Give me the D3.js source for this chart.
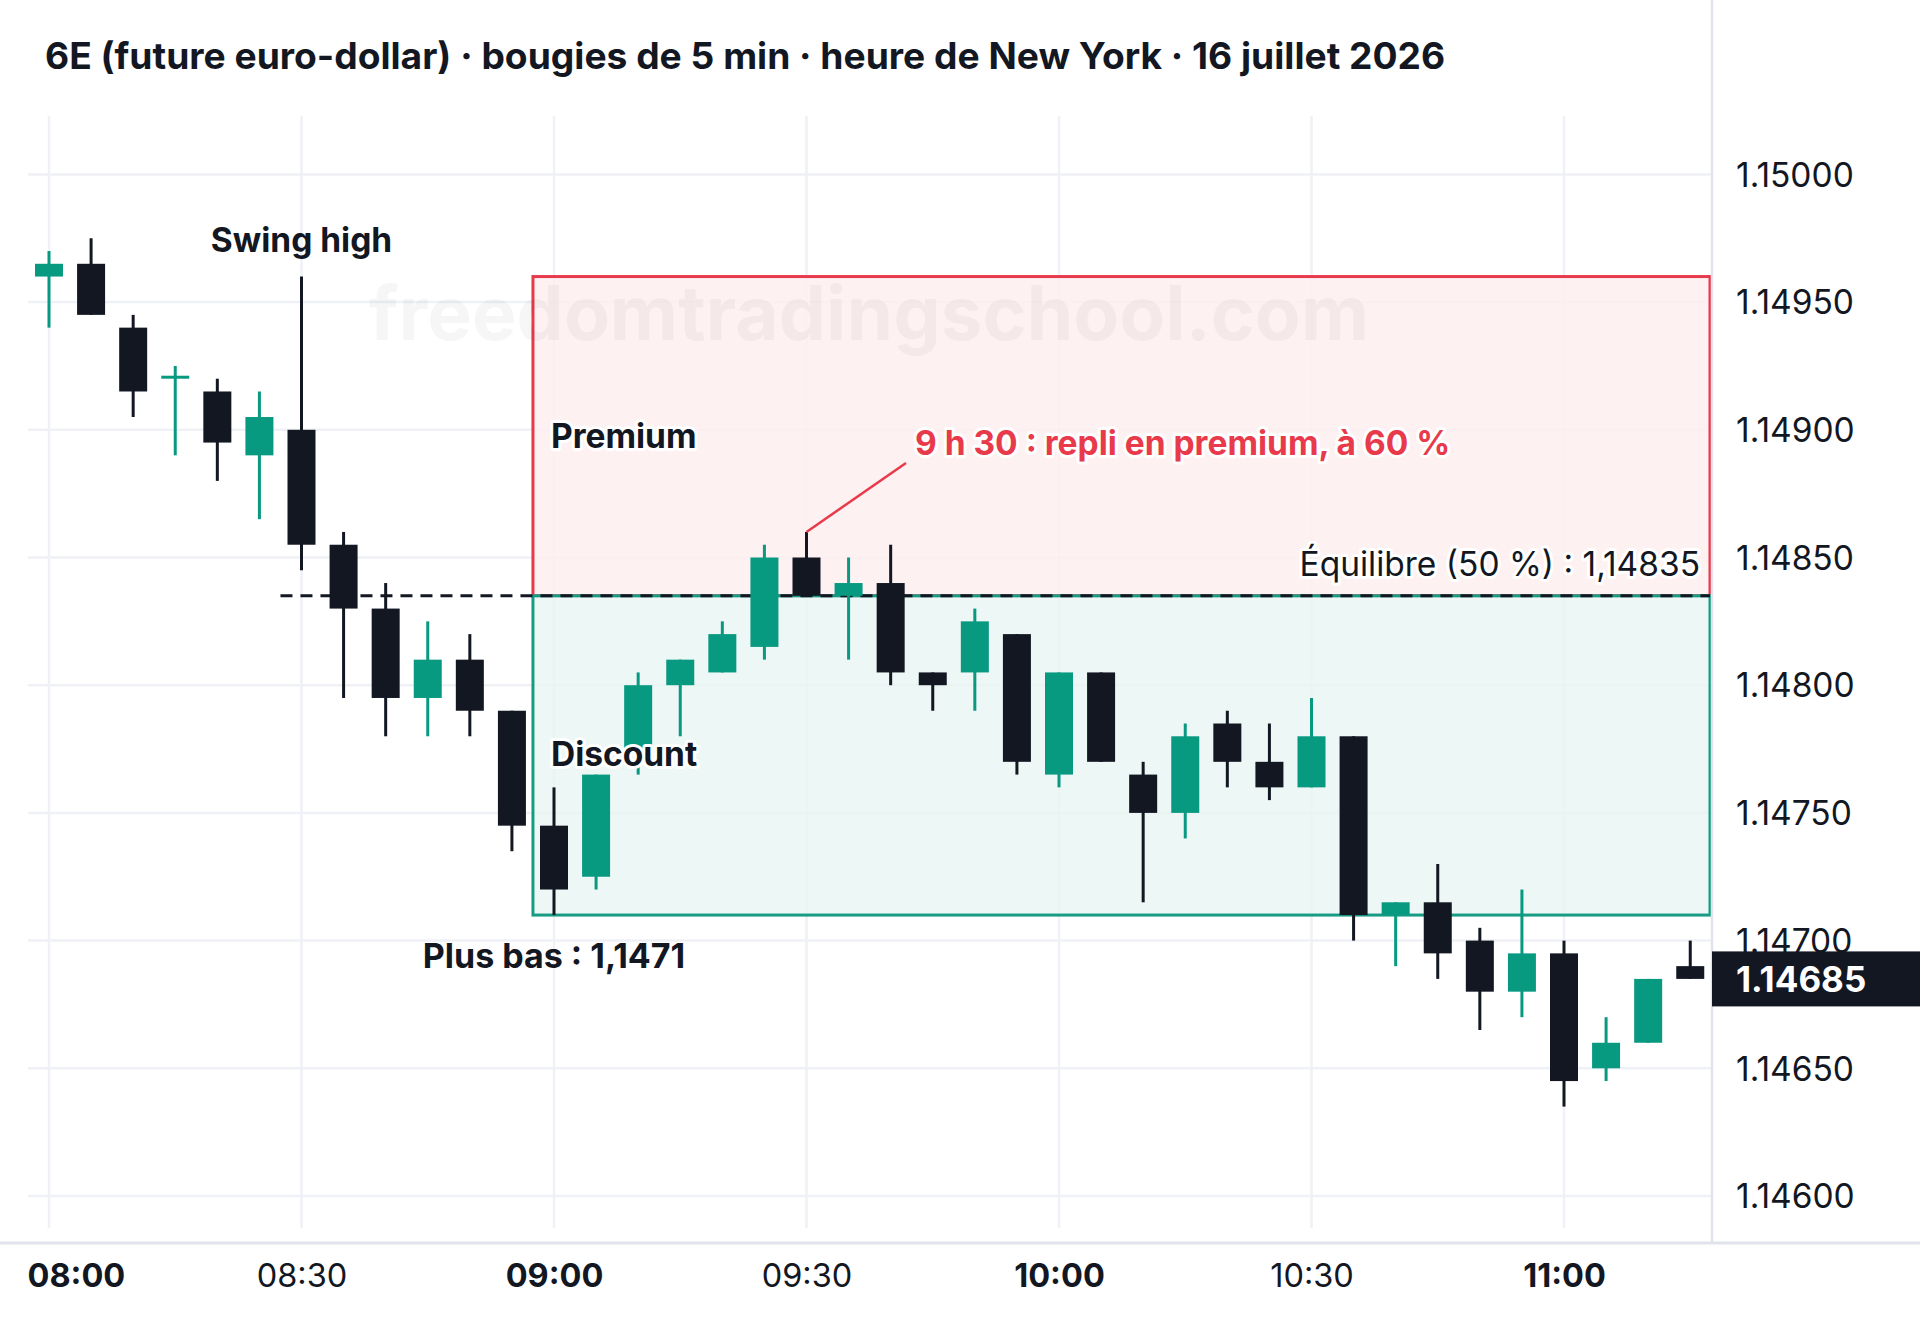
<!DOCTYPE html>
<html>
<head>
<meta charset="utf-8">
<script src="https://cdn.jsdelivr.net/npm/d3@7"></script>
<style>
  body { margin: 0; background: #fff; }
  svg { display: block; font-family: Inter, "Noto Sans", sans-serif; }
</style>
</head>
<body>
<div class="chart"></div>
<script>
// candle data, 5 min, New York time
var times = ["08:00","08:05","08:10","08:15","08:20","08:25","08:30","08:35","08:40","08:45",
  "08:50","08:55","09:00","09:05","09:10","09:15","09:20","09:25","09:30","09:35",
  "09:40","09:45","09:50","09:55","10:00","10:05","10:10","10:15","10:20","10:25",
  "10:30","10:35","10:40","10:45","10:50","10:55","11:00","11:05","11:10","11:15"];
var opens = [1.14960,1.14965,1.14940,1.14920,1.14915,1.14890,1.14900,1.14855,1.14830,1.14795,
  1.14810,1.14790,1.14745,1.14725,1.14775,1.14800,1.14805,1.14815,1.14850,1.14835,
  1.14840,1.14805,1.14805,1.14820,1.14765,1.14805,1.14765,1.14750,1.14785,1.14770,
  1.14760,1.14780,1.14710,1.14715,1.14700,1.14680,1.14695,1.14650,1.14660,1.14690];
var highs = [1.14970,1.14975,1.14945,1.14925,1.14920,1.14915,1.14960,1.14860,1.14840,1.14825,
  1.14820,1.14790,1.14760,1.14765,1.14805,1.14810,1.14825,1.14855,1.14860,1.14850,
  1.14855,1.14805,1.14830,1.14820,1.14805,1.14805,1.14770,1.14785,1.14790,1.14785,
  1.14795,1.14780,1.14715,1.14730,1.14705,1.14720,1.14700,1.14670,1.14685,1.14700];
var lows = [1.14940,1.14945,1.14905,1.14890,1.14880,1.14865,1.14845,1.14795,1.14780,1.14780,
  1.14780,1.14735,1.14710,1.14720,1.14765,1.14780,1.14805,1.14810,1.14835,1.14810,
  1.14800,1.14790,1.14790,1.14765,1.14760,1.14770,1.14715,1.14740,1.14760,1.14755,
  1.14760,1.14700,1.14690,1.14685,1.14665,1.14670,1.14635,1.14645,1.14660,1.14685];
var closes = [1.14965,1.14945,1.14915,1.14920,1.14895,1.14905,1.14855,1.14830,1.14795,1.14810,
  1.14790,1.14745,1.14720,1.14765,1.14800,1.14810,1.14820,1.14850,1.14835,1.14840,
  1.14805,1.14800,1.14825,1.14770,1.14805,1.14770,1.14750,1.14780,1.14770,1.14760,
  1.14780,1.14710,1.14715,1.14695,1.14680,1.14695,1.14645,1.14660,1.14685,1.14685];

var priceTicks = [1.146, 1.1465, 1.147, 1.1475, 1.148, 1.1485, 1.149, 1.1495, 1.15];
var timeTicks = ["08:00","08:30","09:00","09:30","10:00","10:30","11:00"];

// premium / discount zone
var swingHigh = 1.1496;
var lowPoint = 1.1471;
var equilibrium = 1.14835;
var zoneStart = "08:57:30";
var dashStart = "08:27:30";
var lastPrice = 1.14685;

var svgWidth = 1920;
var svgHeight = 1320;

var svg = d3.select(".chart")
  .append("svg")
  .attr("width", svgWidth)
  .attr("height", svgHeight);

var parseTime = d3.timeParse("%H:%M");
var parseTimeSec = d3.timeParse("%H:%M:%S");

var candles = times.map(function(t, i) {
  return { t: parseTime(t), o: opens[i], h: highs[i], l: lows[i], c: closes[i] };
});

var plotRight = 1712;
var gridLeft = 28;
var gridTop = 116;
var gridBottom = 1228;
var axisBottom = 1243;

var xScale = d3.scaleTime()
  .domain([parseTime("08:00"), parseTime("11:00")])
  .range([49, 1564]);

var yScale = d3.scaleLinear()
  .domain([1.146, 1.15])
  .range([1196, 174.4]);

var ink = "#131722";
var green = "#089981";
var red = "#e83a4b";
var teal = "#169c83";

svg.append("rect")
  .attr("width", svgWidth)
  .attr("height", svgHeight)
  .attr("fill", "#fff");

// grid
var grid = svg.append("g");
grid.selectAll(".hgrid")
  .data(priceTicks)
  .enter()
  .append("line")
  .attr("x1", gridLeft)
  .attr("x2", plotRight)
  .attr("y1", d => yScale(d))
  .attr("y2", d => yScale(d))
  .attr("stroke", "#eff1f6")
  .attr("stroke-width", 2.5);

grid.selectAll(".vgrid")
  .data(timeTicks)
  .enter()
  .append("line")
  .attr("x1", d => xScale(parseTime(d)))
  .attr("x2", d => xScale(parseTime(d)))
  .attr("y1", gridTop)
  .attr("y2", gridBottom)
  .attr("stroke", "#eff1f6")
  .attr("stroke-width", 2.5);

// zones
var zx = xScale(parseTimeSec(zoneStart));
svg.append("rect")
  .attr("x", zx)
  .attr("y", yScale(swingHigh))
  .attr("width", plotRight - 2 - zx)
  .attr("height", yScale(equilibrium) - yScale(swingHigh))
  .attr("fill", "#fdeef0")
  .attr("fill-opacity", 0.85)
  .attr("stroke", red)
  .attr("stroke-width", 3);

svg.append("rect")
  .attr("x", zx)
  .attr("y", yScale(equilibrium))
  .attr("width", plotRight - 2 - zx)
  .attr("height", yScale(lowPoint) - yScale(equilibrium))
  .attr("fill", "#e9f5f2")
  .attr("fill-opacity", 0.8)
  .attr("stroke", teal)
  .attr("stroke-width", 3);

// watermark
svg.append("text")
  .attr("x", 869)
  .attr("y", 312)
  .attr("text-anchor", "middle")
  .attr("dominant-baseline", "central")
  .attr("font-size", 75)
  .attr("font-weight", 700)
  .attr("fill", ink)
  .attr("fill-opacity", 0.04)
  .text("freedomtradingschool.com");

// equilibrium dashed line
svg.append("line")
  .attr("x1", xScale(parseTimeSec(dashStart)))
  .attr("x2", plotRight - 2)
  .attr("y1", yScale(equilibrium))
  .attr("y2", yScale(equilibrium))
  .attr("stroke", ink)
  .attr("stroke-width", 3)
  .attr("stroke-dasharray", "12,8");

// candles
var bodyW = 28;
var candleGroup = svg.append("g");
candleGroup.selectAll(".wick")
  .data(candles)
  .enter()
  .append("line")
  .attr("x1", d => xScale(d.t))
  .attr("x2", d => xScale(d.t))
  .attr("y1", d => yScale(d.h))
  .attr("y2", d => yScale(d.l))
  .attr("stroke", d => d.c >= d.o ? green : ink)
  .attr("stroke-width", 3);

candleGroup.selectAll(".body")
  .data(candles)
  .enter()
  .append("rect")
  .attr("x", d => xScale(d.t) - bodyW / 2)
  .attr("y", d => Math.min(yScale(Math.max(d.o, d.c)), yScale(Math.min(d.o, d.c)) - 3))
  .attr("width", bodyW)
  .attr("height", d => Math.max(3, yScale(Math.min(d.o, d.c)) - yScale(Math.max(d.o, d.c))))
  .attr("fill", d => d.c >= d.o ? green : ink);

// annotations
function label(x, y, txt, opts) {
  var t = svg.append("text")
    .attr("x", x)
    .attr("y", y)
    .attr("dominant-baseline", "central")
    .attr("text-anchor", opts.anchor || "start")
    .attr("font-size", opts.size || 33.5)
    .attr("font-weight", opts.weight || 700)
    .attr("fill", opts.color || ink)
    .text(txt);
  if (opts.halo) {
    t.attr("stroke", "#fff")
      .attr("stroke-width", 6)
      .attr("stroke-linejoin", "round")
      .attr("paint-order", "stroke");
  }
  return t;
}

var swingTime = parseTime("08:30");
label(xScale(swingTime), yScale(swingHigh) - 37, "Swing high", { anchor: "middle" });
label(zx + 18, 436, "Premium", { halo: true });
label(zx + 18, 754, "Discount", { halo: true });
label(xScale(parseTime("09:00")), yScale(lowPoint) + 40, "Plus bas : 1,1471", { anchor: "middle", size: 34 });
label(plotRight - 12, yScale(equilibrium) - 32, "Équilibre (50 %) : 1,14835",
  { anchor: "end", weight: 400, halo: true });

var pullTime = parseTime("09:30");
svg.append("line")
  .attr("x1", xScale(pullTime))
  .attr("y1", yScale(1.1486))
  .attr("x2", 906)
  .attr("y2", 463)
  .attr("stroke", red)
  .attr("stroke-width", 2.5);
label(915, 443, "9 h 30 : repli en premium, à 60 %", { color: red, halo: true });

// borders
svg.append("line")
  .attr("x1", plotRight).attr("x2", plotRight)
  .attr("y1", 0).attr("y2", axisBottom)
  .attr("stroke", "#e0e3eb").attr("stroke-width", 2.5);
svg.append("line")
  .attr("x1", 0).attr("x2", svgWidth)
  .attr("y1", axisBottom).attr("y2", axisBottom)
  .attr("stroke", "#e0e3eb").attr("stroke-width", 3);

// price axis
var rightAxis = d3.axisRight(yScale)
  .tickValues(priceTicks)
  .tickSize(0)
  .tickPadding(0)
  .tickFormat(d3.format(".5f"));

var yAxis = svg.append("g")
  .attr("transform", `translate(1736, 0)`)
  .call(rightAxis);
yAxis.select(".domain").remove();
yAxis.selectAll("text")
  .attr("font-family", "Inter, sans-serif")
  .attr("font-size", 33.5)
  .attr("fill", ink)
  .attr("dy", "0.35em")
  .attr("x", 0);

// last price tag
var ly = yScale(lastPrice);
svg.append("rect")
  .attr("x", plotRight)
  .attr("y", ly - 27.5)
  .attr("width", svgWidth - plotRight)
  .attr("height", 55)
  .attr("fill", ink);
svg.append("text")
  .attr("x", 1736)
  .attr("y", ly)
  .attr("dominant-baseline", "central")
  .attr("font-size", 35)
  .attr("font-weight", 700)
  .attr("fill", "#fff")
  .text(d3.format(".5f")(lastPrice));

// time axis
var bottomAxis = d3.axisBottom(xScale)
  .tickValues(timeTicks.map(parseTime))
  .tickSize(0)
  .tickPadding(0)
  .tickFormat(d3.timeFormat("%H:%M"));

var xAxis = svg.append("g")
  .attr("transform", `translate(0, 1276)`)
  .call(bottomAxis);
xAxis.select(".domain").remove();
xAxis.selectAll("text")
  .attr("font-family", "Inter, sans-serif")
  .attr("font-size", 32.5)
  .attr("fill", ink)
  .attr("y", 0)
  .attr("dy", "0.35em")
  .attr("font-weight", d => d.getMinutes() === 0 ? 700 : 400);
// first label is pushed inside the frame
xAxis.selectAll("text")
  .filter((d, i) => i === 0)
  .attr("text-anchor", "start")
  .attr("x", 27 - xScale(parseTime("08:00")));

// title
svg.append("text")
  .attr("x", 45)
  .attr("y", 55)
  .attr("dominant-baseline", "central")
  .attr("font-size", 37.2)
  .attr("font-weight", 700)
  .attr("fill", ink)
  .text("6E (future euro-dollar) · bougies de 5 min · heure de New York · 16 juillet 2026");
</script>
</body>
</html>
